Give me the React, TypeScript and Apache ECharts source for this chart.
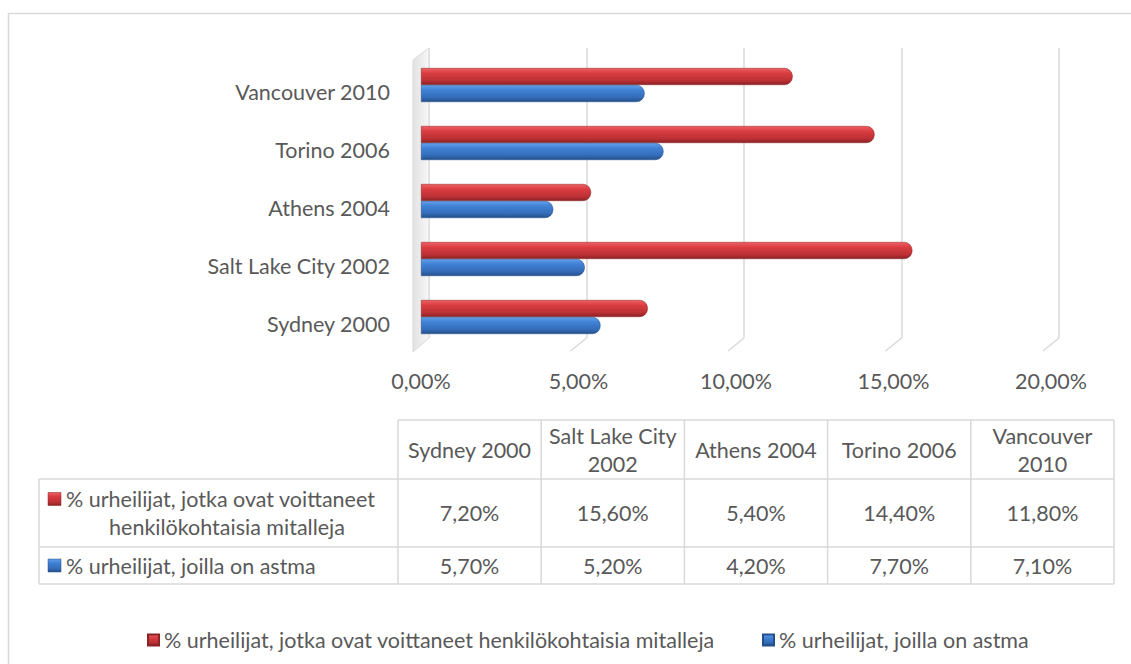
import React, { useEffect, useRef } from 'react';
import * as echarts from 'echarts';

const categories = ['Sydney 2000', 'Salt Lake City 2002', 'Athens 2004', 'Torino 2006', 'Vancouver 2010'];
const tableHeaderLabels = ['Sydney 2000', 'Salt Lake City\n2002', 'Athens 2004', 'Torino 2006', 'Vancouver\n2010'];
const medalValues = [7.2, 15.6, 5.4, 14.4, 11.8];
const asthmaValues = [5.7, 5.2, 4.2, 7.7, 7.1];
const seriesNames = [
  '% urheilijat, jotka ovat voittaneet henkilökohtaisia mitalleja',
  '% urheilijat, joilla on astma',
];
const tableRowLines = [
  ['% urheilijat, jotka ovat voittaneet', 'henkilökohtaisia mitalleja'],
  ['% urheilijat, joilla on astma'],
];
const xTicks = [0, 5, 10, 15, 20];

const FONT = 'Lato, "Open Sans", sans-serif';
const TEXT = '#595959';
const LINE = '#d9d9d9';
const FS = 21.5;

const fmt = (v: number) => v.toFixed(2).replace('.', ',') + '%';

const redGrad = () =>
  new echarts.graphic.LinearGradient(0, 0, 0, 1, [
    { offset: 0, color: '#ee6064' },
    { offset: 0.3, color: '#d93d41' },
    { offset: 0.75, color: '#bb3034' },
    { offset: 1, color: '#8a2325' },
  ]);
const blueGrad = () =>
  new echarts.graphic.LinearGradient(0, 0, 0, 1, [
    { offset: 0, color: '#609fe8' },
    { offset: 0.3, color: '#4081d5' },
    { offset: 0.75, color: '#346bb6' },
    { offset: 1, color: '#244f8a' },
  ]);

const txt = (id: string, text: string, x: number, y: number, align = 'center', lineHeight = 28) => ({
  type: 'text',
  id,
  z: 10,
  style: {
    text,
    x,
    y,
    align,
    verticalAlign: 'middle',
    textAlign: align,
    textVerticalAlign: 'middle',
    fill: TEXT,
    font: `${FS}px ${FONT}`,
    lineHeight,
  },
});

export default function App() {
  const ref = useRef<HTMLDivElement>(null);
  useEffect(() => {
    if (!ref.current) return;
    const chart = echarts.init(ref.current, null, { renderer: 'svg' });
    const legendText = { color: TEXT, fontSize: FS, fontFamily: FONT };
    const option: any = {
      animation: false,
      backgroundColor: '#ffffff',
      grid: [
        { left: 421, width: 630, top: 56, height: 290 },
        { left: 429, width: 630, top: 48, height: 290 },
      ],
      xAxis: [
        {
          type: 'value',
          gridIndex: 0,
          min: 0,
          max: 20,
          interval: 5,
          axisLine: { show: false },
          axisTick: { show: false },
          splitLine: { show: false },
          axisLabel: {
            margin: 24,
            formatter: (v: number) => fmt(v),
            color: TEXT,
            fontSize: FS,
            fontFamily: FONT,
          },
        },
        {
          type: 'value',
          gridIndex: 1,
          min: 0,
          max: 20,
          interval: 5,
          axisLine: { show: false },
          axisTick: { show: false },
          axisLabel: { show: false },
          splitLine: { show: true, lineStyle: { color: LINE, width: 1.5 } },
        },
      ],
      yAxis: [
        {
          type: 'category',
          gridIndex: 0,
          data: categories,
          axisLine: { show: false },
          axisTick: { show: false },
          axisLabel: {
            margin: 31,
            verticalAlign: 'top',
            lineHeight: 13,
            color: TEXT,
            fontSize: FS,
            fontFamily: FONT,
          },
        },
        {
          type: 'category',
          gridIndex: 1,
          data: categories,
          show: false,
        },
      ],
      legend: [
        {
          data: [seriesNames[0]],
          left: 142,
          top: 624,
          icon: 'rect',
          itemWidth: 11,
          itemHeight: 11,
          selectedMode: false,
          textStyle: legendText,
        },
        {
          data: [seriesNames[1]],
          left: 757,
          top: 624,
          icon: 'rect',
          itemWidth: 11,
          itemHeight: 11,
          selectedMode: false,
          textStyle: legendText,
        },
      ],
      series: [
        {
          name: seriesNames[0],
          type: 'bar',
          xAxisIndex: 0,
          yAxisIndex: 0,
          data: medalValues,
          barWidth: 17,
          barGap: '0%',
          itemStyle: { color: redGrad(), borderRadius: [0, 8, 8, 0], borderColor: '#8a2325', borderWidth: 0.5 },
        },
        {
          name: seriesNames[1],
          type: 'bar',
          xAxisIndex: 0,
          yAxisIndex: 0,
          data: asthmaValues,
          barWidth: 17,
          barGap: '0%',
          itemStyle: { color: blueGrad(), borderRadius: [0, 8, 8, 0], borderColor: '#244f8a', borderWidth: 0.5 },
        },
      ],
    };
    chart.setOption(option);

    // Pixel positions from the library's scales
    const backX = xTicks.map((t) => chart.convertToPixel({ xAxisIndex: 1 }, t) as number);

    const g: any[] = [];
    // chart border
    g.push({
      type: 'rect',
      id: 'border',
      z: 0,
      shape: { x: 8.5, y: 13.5, width: 1200, height: 700 },
      style: { fill: 'none', stroke: LINE, lineWidth: 1.5 },
    });
    // left wall
    g.push({
      type: 'polygon',
      id: 'wall',
      z: 1,
      shape: { points: [[413, 60], [backX[0], 48], [backX[0], 338], [413, 352]] },
      style: {
        fill: new echarts.graphic.LinearGradient(0, 0, 1, 0, [
          { offset: 0, color: '#e2e2e2' },
          { offset: 1, color: '#f7f7f7' },
        ]),
        stroke: LINE,
        lineWidth: 1,
      },
    });
    // floor diagonals from back gridlines to front
    xTicks.forEach((t, i) => {
      if (i === 0) return;
      g.push({
        type: 'line',
        id: 'diag' + i,
        z: 1,
        shape: { x1: backX[i], y1: 338, x2: backX[i] - 16, y2: 351 },
        style: { stroke: LINE, lineWidth: 1.5 },
      });
    });

    // data table
    const tableLeft = 39;
    const colStart = 398;
    const colW = 143.2;
    const rowY = [420, 479, 547, 584];
    const tableRight = colStart + colW * categories.length;
    g.push({ type: 'line', id: 'th0', z: 5, shape: { x1: colStart, y1: rowY[0], x2: tableRight, y2: rowY[0] }, style: { stroke: LINE, lineWidth: 1.5 } });
    [1, 2, 3].forEach((r) => {
      g.push({ type: 'line', id: 'th' + r, z: 5, shape: { x1: tableLeft, y1: rowY[r], x2: tableRight, y2: rowY[r] }, style: { stroke: LINE, lineWidth: 1.5 } });
    });
    g.push({ type: 'line', id: 'tvL', z: 5, shape: { x1: tableLeft, y1: rowY[1], x2: tableLeft, y2: rowY[3] }, style: { stroke: LINE, lineWidth: 1.5 } });
    for (let c = 0; c <= categories.length; c++) {
      const x = colStart + c * colW;
      g.push({ type: 'line', id: 'tv' + c, z: 5, shape: { x1: x, y1: rowY[0], x2: x, y2: rowY[3] }, style: { stroke: LINE, lineWidth: 1.5 } });
    }
    // header
    tableHeaderLabels.forEach((h, c) => {
      g.push(txt('hd' + c, h, colStart + c * colW + colW / 2, (rowY[0] + rowY[1]) / 2 + 0.5, 'center', 28));
    });
    // values
    const rows = [medalValues, asthmaValues];
    rows.forEach((vals, r) => {
      vals.forEach((v, c) => {
        g.push(txt('v' + r + '_' + c, fmt(v), colStart + c * colW + colW / 2, (rowY[r + 1] + rowY[r + 2]) / 2));
      });
    });
    // row labels with markers
    const grads = [redGrad, blueGrad];
    tableRowLines.forEach((lines, r) => {
      const top = rowY[r + 1];
      const bottom = rowY[r + 2];
      const mid = (top + bottom) / 2;
      const firstY = lines.length > 1 ? mid - 14 : mid;
      g.push({
        type: 'rect',
        id: 'mk' + r,
        z: 6,
        shape: { x: 48, y: firstY - 6.5, width: 13, height: 13 },
        style: { fill: grads[r](), stroke: r === 0 ? '#8a2325' : '#244f8a', lineWidth: 0.5 },
      });
      g.push(txt('rl' + r + '_0', lines[0], 66, firstY, 'left'));
      if (lines.length > 1) {
        g.push(txt('rl' + r + '_1', lines[1], 227, mid + 14, 'center'));
      }
    });

    chart.setOption({ graphic: g });
    return () => chart.dispose();
  }, []);
  return (
    <div
      ref={ref}
      style={{ position: 'absolute', left: 0, top: 0, width: 1131, height: 664 }}
    />
  );
}
